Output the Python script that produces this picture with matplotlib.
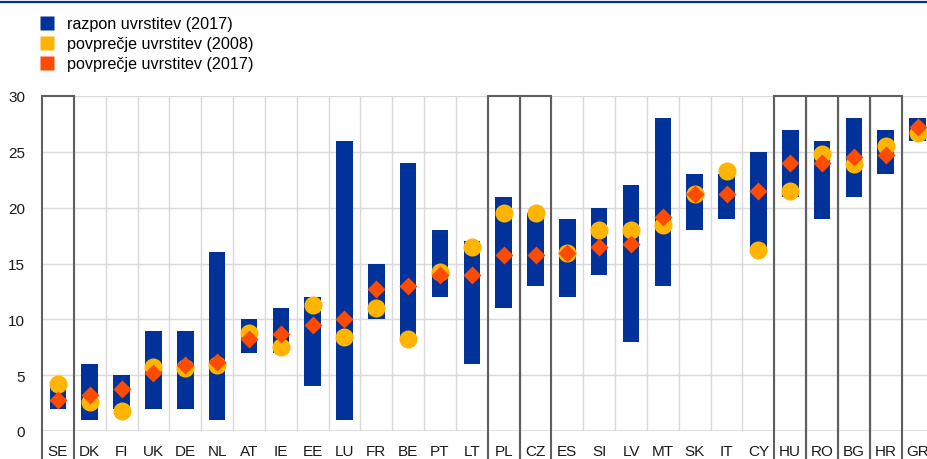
import matplotlib.pyplot as plt
import numpy as np
from matplotlib.lines import Line2D
from matplotlib.patches import Rectangle

plt.rcParams['font.family'] = ['Liberation Sans', 'DejaVu Sans']

# countries and values
countries = ['SE', 'DK', 'FI', 'UK', 'DE', 'NL', 'AT', 'IE', 'EE', 'LU', 'FR', 'BE', 'PT', 'LT',
             'PL', 'CZ', 'ES', 'SI', 'LV', 'MT', 'SK', 'IT', 'CY', 'HU', 'RO', 'BG', 'HR', 'GR']
range_low = [2, 1, 2, 2, 2, 1, 7, 7, 4, 1, 10, 8, 12, 6,
             11, 13, 12, 14, 8, 13, 18, 19, 16, 21, 19, 21, 23, 26]
range_high = [4, 6, 5, 9, 9, 16, 10, 11, 12, 26, 15, 24, 18, 17,
              21, 19.5, 19, 20, 22, 28, 23, 23, 25, 27, 26, 28, 27, 28]
avg_2008 = [4.25, 2.6, 1.75, 5.75, 5.6, 5.9, 8.75, 7.5, 11.25, 8.45, 11.0, 8.25, 14.25, 16.5,
            19.5, 19.5, 15.9, 18.0, 18.0, 18.45, 21.2, 23.25, 16.25, 21.5, 24.8, 23.9, 25.5, 26.7]
avg_2017 = [2.75, 3.25, 3.75, 5.2, 5.9, 6.15, 8.25, 8.7, 9.5, 10.0, 12.75, 13.0, 14.0, 14.0,
            15.75, 15.75, 15.95, 16.5, 16.75, 19.2, 21.2, 21.2, 21.5, 24.0, 24.0, 24.5, 24.75, 27.25]
boxed = ['SE', 'PL', 'CZ', 'HU', 'RO', 'BG', 'HR']

blue = '#003299'
yellow = '#ffb400'
orange = '#ff4b00'
grid_col = '#d9d9d9'

W, H = 927, 460
fig = plt.figure(figsize=(W / 100, H / 100), dpi=100)
x0, cw = 42.0, 31.84
ax = fig.add_axes([x0 / W, 28 / H, 28 * cw / W, 335 / H])

x = np.arange(len(countries))
lo = np.array(range_low, dtype=float)
hi = np.array(range_high, dtype=float)

ax.bar(x, hi - lo, bottom=lo, width=0.52, color=blue, zorder=3)
ax.plot(x, avg_2008, 'o', ms=13, color=yellow, mec='none', zorder=4)
ax.plot(x, avg_2017, 'D', ms=9.2, color=orange, mec='none', zorder=5)

ax.set_xlim(-0.5, len(countries) - 0.5)
ax.set_ylim(0, 30)
ax.set_yticks(np.arange(0, 31, 5))
ax.set_xticks(x)
ax.set_xticklabels(countries)
ax.tick_params(length=0, labelsize=11, colors='#1a1a1a')
ax.tick_params(axis='y', pad=12)
ax.tick_params(axis='x', pad=9.5)
for s in ax.spines.values():
    s.set_visible(False)

for v in range(5, 30, 5):
    ax.axhline(v, color=grid_col, lw=1, zorder=1)
ax.axhline(30, color=grid_col, lw=1.6, zorder=1)
ax.axhline(0, color=grid_col, lw=1.8, zorder=2)
for b in np.arange(0.5, len(countries) - 1, 1):
    ax.axvline(b, color=grid_col, lw=1, zorder=1)

# dark boxes around highlighted countries, running down past the labels
for c in boxed:
    i = countries.index(c)
    r = Rectangle((i - 0.5, -3), 1, 33, fill=False, ec='#5f5f5f', lw=1.5,
                  clip_on=False, zorder=6)
    ax.add_patch(r)

# blue rule at the top
fig.add_artist(Line2D([0, 1], [1 - 3 / H, 1 - 3 / H], color=blue, lw=1.6))

handles = [Line2D([], [], marker='s', ls='none', ms=10, color=col, mec='none')
           for col in (blue, yellow, orange)]
labels = ['razpon uvrstitev (2017)', 'povprečje uvrstitev (2008)', 'povprečje uvrstitev (2017)']
fig.legend(handles, labels, loc='upper left', bbox_to_anchor=(39 / W, 1 - 17.5 / H),
           frameon=False, fontsize=11.6, handlelength=1.0, handletextpad=0.75,
           labelspacing=0.3, borderaxespad=0, borderpad=0)

fig.savefig('out.png', dpi=100)
